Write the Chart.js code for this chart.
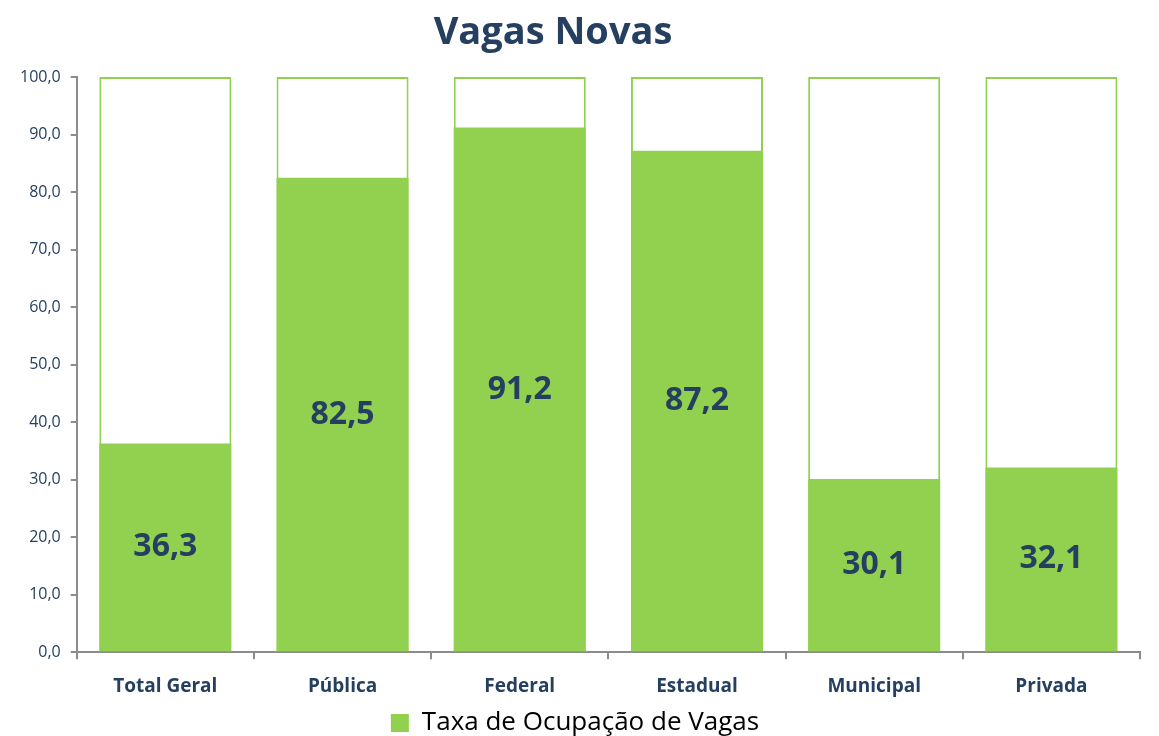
<!DOCTYPE html>
<html lang="pt">
<head>
  <meta charset="UTF-8">
  <title>Vagas Novas</title>
  <script src="https://cdn.jsdelivr.net/npm/chart.js"></script>
  <style>
    body {
      margin: 0;
      background: #ffffff;
    }
    #wrap {
      width: 1159px;
      height: 736px;
    }
  </style>
</head>
<body>
  <div id="wrap">
    <canvas id="vagasChart" width="1159" height="736"></canvas>
  </div>

  <script>
    const categorias = ['Total Geral', 'Pública', 'Federal', 'Estadual', 'Municipal', 'Privada'];
    const taxaOcupacao = [36.3, 82.5, 91.2, 87.2, 30.1, 32.1];
    const totalVagas = [100, 100, 100, 100, 100, 100];

    const verde = '#92d050';
    const azul = '#243f60';
    const fonte = "'Open Sans', sans-serif";

    // title + value labels drawn on the canvas
    const rotulos = {
      id: 'rotulos',
      afterDraw(chart) {
        const ctx = chart.ctx;
        ctx.save();
        ctx.fillStyle = azul;
        ctx.textAlign = 'center';
        ctx.textBaseline = 'middle';
        ctx.font = 'bold 38px ' + fonte;
        ctx.fillText('Vagas Novas', 553, 33);

        const meta = chart.getDatasetMeta(0);
        ctx.font = 'bold 32px ' + fonte;
        meta.data.forEach((bar, i) => {
          const y = (bar.y + bar.base) / 2;
          ctx.fillText(taxaOcupacao[i].toFixed(1).replace('.', ','), bar.x, y);
        });
        ctx.restore();
      }
    };

    new Chart(document.getElementById('vagasChart'), {
      type: 'bar',
      data: {
        labels: categorias,
        datasets: [{
          label: 'Taxa de Ocupação de Vagas',
          data: taxaOcupacao,
          backgroundColor: verde,
          borderWidth: 0,
          order: 0
        }, {
          label: 'Total',
          data: totalVagas,
          backgroundColor: '#ffffff',
          borderColor: verde,
          borderWidth: 2,
          borderSkipped: false,
          order: 1
        }]
      },
      options: {
        responsive: false,
        animation: false,
        layout: {
          padding: { top: 77, right: 19, left: 10, bottom: -10 }
        },
        datasets: {
          bar: {
            grouped: false,
            categoryPercentage: 0.745,
            barPercentage: 1
          }
        },
        plugins: {
          title: { display: false },
          tooltip: { enabled: false },
          legend: {
            position: 'bottom',
            labels: {
              filter: item => item.datasetIndex === 0,
              boxWidth: 18,
              boxHeight: 18,
              padding: 3,
              color: '#000000',
              font: { family: fonte, size: 26 }
            }
          }
        },
        scales: {
          x: {
            afterFit: scale => { scale.height -= 7; },
            grid: {
              display: true,
              drawOnChartArea: false,
              offset: true,
              tickLength: 7,
              color: '#8c8c8c',
              lineWidth: 2
            },
            border: { color: '#8c8c8c', width: 2 },
            ticks: {
              color: azul,
              padding: 16,
              font: { family: fonte, size: 19, weight: 'bold' }
            }
          },
          y: {
            min: 0,
            max: 100,
            grid: {
              drawOnChartArea: false,
              tickLength: 6,
              color: '#8c8c8c',
              lineWidth: 2
            },
            border: { color: '#8c8c8c', width: 2 },
            ticks: {
              stepSize: 10,
              color: azul,
              padding: 10,
              font: { family: fonte, size: 16 },
              callback: v => v.toFixed(1).replace('.', ',')
            }
          }
        }
      },
      plugins: [rotulos]
    });
  </script>
</body>
</html>
